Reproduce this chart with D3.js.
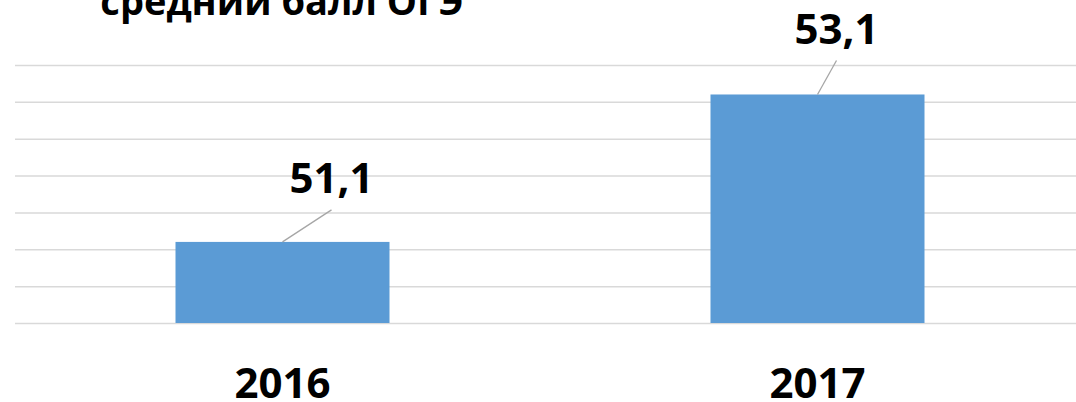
<!DOCTYPE html>
<html lang="ru">
<head>
    <meta charset="UTF-8">
    <title>средний балл ОГЭ</title>
    <script src="https://cdn.jsdelivr.net/npm/d3@7"></script>
    <style>
        body { margin: 0; background: #fff; }
        text { font-family: "Open Sans", "DejaVu Sans", sans-serif; font-weight: 700; fill: #000; }
    </style>
</head>
<body>
<svg width="1076" height="402"></svg>

<script>
    // данные
    var years = ['2016', '2017'];
    var scores = [51.1, 53.1];
    var gridValues = [50, 50.5, 51, 51.5, 52, 52.5, 53, 53.5];
    var title = 'средний балл ОГЭ';

    var width = 1076;
    var svg = d3.select('svg');

    // ручной сдвиг подписей значений (как в исходной диаграмме)
    var labelShift = [{dx: 49, dy: -49}, {dx: 19, dy: -51}];

    var x = d3.scaleBand().domain(years).range([15, 1085]).paddingInner(0.6).paddingOuter(0.3);
    var y = d3.scaleLinear().domain([50, 53.5]).range([323, 65]);

    // сетка
    var grid = d3.axisLeft(y).tickValues(gridValues).tickSize(-(width - 15)).tickFormat('');
    svg.append('g').attr('transform', 'translate(15,0)').call(grid)
        .call(function (g) { g.select('.domain').remove(); })
        .selectAll('line').attr('stroke', '#d9d9d9').attr('stroke-width', 1.5);

    // столбцы
    svg.append('g').selectAll('rect').data(scores).enter().append('rect')
        .attr('x', function (d, i) { return x(years[i]); })
        .attr('y', function (d) { return y(d); })
        .attr('width', x.bandwidth())
        .attr('height', function (d) { return y(50) - y(d); })
        .attr('fill', '#5b9bd5');

    // выноски
    svg.append('g').selectAll('line').data(scores).enter().append('line')
        .attr('x1', function (d, i) { return x(years[i]) + x.bandwidth() / 2; })
        .attr('y1', function (d) { return y(d); })
        .attr('x2', function (d, i) { return x(years[i]) + x.bandwidth() / 2 + labelShift[i].dx; })
        .attr('y2', function (d, i) { return y(d) + labelShift[i].dy + 17; })
        .attr('stroke', '#a6a6a6').attr('stroke-width', 1.3);

    // подписи значений
    svg.append('g').selectAll('text').data(scores).enter().append('text')
        .attr('x', function (d, i) { return x(years[i]) + x.bandwidth() / 2 + labelShift[i].dx; })
        .attr('y', function (d, i) { return y(d) + labelShift[i].dy; })
        .attr('text-anchor', 'middle')
        .style('font-size', '42px')
        .text(function (d) { return d3.format('.1f')(d).replace('.', ','); });

    // подписи оси X
    var xAxis = d3.axisBottom(x).tickSize(0).tickPadding(0);
    svg.append('g').attr('transform', 'translate(0,398)').call(xAxis)
        .call(function (g) { g.select('.domain').remove(); })
        .selectAll('text')
        .attr('dy', 0)
        .style('font-size', '42px')
        .attr('font-family', null);

    // заголовок
    svg.append('text').attr('x', 282).attr('y', 15).attr('text-anchor', 'middle')
        .style('font-size', '38px').text(title);
</script>
</body>
</html>
